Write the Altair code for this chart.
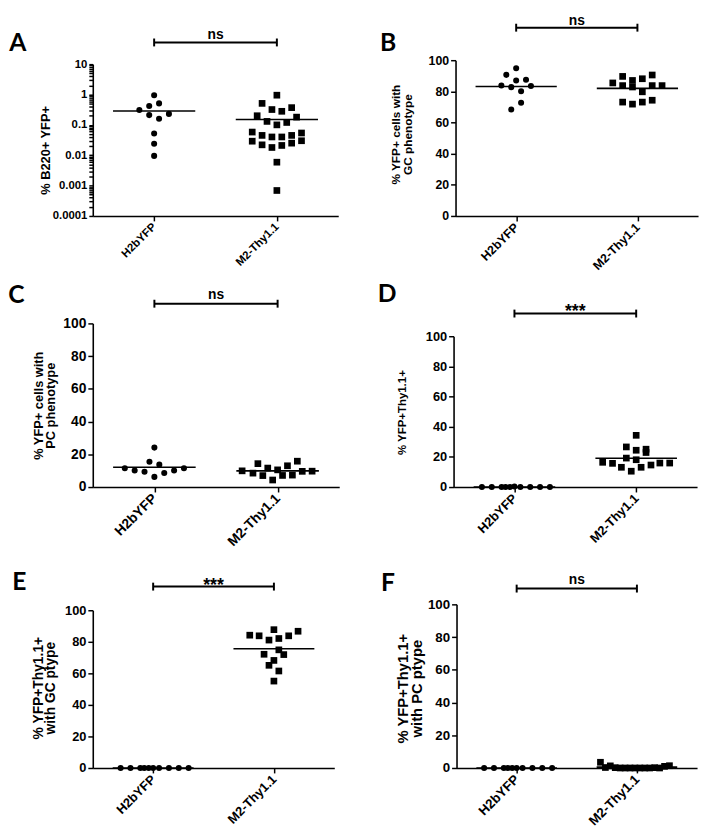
import altair as alt
import pandas as pd

GROUPS = ["H2bYFP", "M2-Thy1.1"]
LETTERS = ["A", "B", "C", "D", "E", "F"]
SIG_LABELS = ["ns", "ns", "ns", "***", "***", "ns"]
Y_TITLES = [
    ["% B220+ YFP+"],
    ["% YFP+ cells with", "GC phenotype"],
    ["% YFP+ cells with", "PC phenotype"],
    ["% YFP+Thy1.1+"],
    ["% YFP+Thy1.1+", "with GC ptype"],
    ["% YFP+Thy1.1+", "with PC ptype"],
]
LIN_TICKS = [0, 20, 40, 60, 80, 100]
LOG_MAJOR = [0.0001, 0.001, 0.01, 0.1, 1, 10]
LOG_TICKS = [m * k for m in [0.0001, 0.001, 0.01, 0.1, 1] for k in range(1, 10)] + [10]

# jitter = horizontal spread, in point-widths
ZERO_JIT = [-3.3, -2.3, -1.3, -0.9, -0.45, 0.0, 0.6, 1.6, 2.6, 3.6]

A_H2B = [0.95, 0.51, 0.42, 0.31, 0.21, 0.16, 0.23, 0.052, 0.024, 0.0095]
A_H2B_JIT = [0, 0.5, -0.5, -1.5, -0.5, 0.5, 1.5, 0, 0, 0]
A_M2 = [0.95, 0.51, 0.32, 0.28, 0.37, 0.20, 0.13, 0.10, 0.12, 0.18,
        0.058, 0.045, 0.040, 0.040, 0.045, 0.054,
        0.029, 0.022, 0.018, 0.021, 0.025, 0.030, 0.0059, 0.00069]
A_M2_JIT = [0, -1.5, -0.5, 0.5, 1.5, -2, -1, 0, 1, 2,
            -2.5, -1.5, -0.5, 0.5, 1.5, 2.5,
            -2.5, -1.5, -0.5, 0.5, 1.5, 2.5, 0, 0]

B_H2B = [94.8, 90.6, 87.0, 87.5, 83.8, 82.7, 80.1, 83.4, 72.7, 68.3]
B_H2B_JIT = [0, -1, 0, 1, -1.5, -0.5, 0.5, 1.5, 0.5, -0.5]
B_M2 = [85.4, 89.6, 83.7, 87.0, 82.8, 88.1, 79.7, 90.5, 83.7, 83.7, 73.1, 71.8, 73.1, 74.3]
B_M2_JIT = [-2.5, -1.5, -1.5, -0.5, -0.5, 0.5, 0.5, 1.5, 1.5, 2.5, -1.5, -0.5, 0.5, 1.5]

C_H2B = [24.1, 15.5, 13.7, 11.5, 10.1, 9.3, 6.2, 8.6, 10.1, 11.5]
C_H2B_JIT = [0, -0.5, 0.5, -3, -2, -1, 0, 1, 2, 3]
C_M2 = [9.9, 8.5, 14.3, 7.0, 11.6, 4.3, 10.5, 7.1, 13.0, 7.3, 15.8, 9.6, 9.7]
C_M2_JIT = [-3.6, -2.5, -2, -1.5, -1, -0.5, 0, 0.5, 1, 1.5, 2, 2.5, 3.5]

D_H2B = [0, 0, 0, 0, 0, 0.4, 0, 0, 0, 0]
D_H2B_JIT = ZERO_JIT
D_M2 = [16.4, 15.7, 13.1, 19.2, 26.6, 10.5, 34.3, 24.4, 18.1, 13.1, 25.1, 22.9, 14.6, 15.9, 15.9]
D_M2_JIT = [-3.4, -2.4, -1.5, -1, -1, -0.5, 0, 0, 0, 0.5, 1, 1, 1.5, 2.4, 3.4]

E_H2B = [0, 0, 0, 0, 0, 0, 0, 0, 0, 0]
E_H2B_JIT = ZERO_JIT
E_M2 = [84.2, 83.8, 81.1, 87.7, 82.1, 83.8, 86.7, 74.9, 72.1, 71.9, 68.2, 65.1, 61.5, 55.1]
E_M2_JIT = [-2.45, -1.5, -0.5, 0, 0.5, 1.5, 2.45, 0.5, -1, 1, 0, -0.5, 0.5, 0]

F_H2B = [0, 0, 0, 0, 0, 0, 0, 0, 0, 0]
F_H2B_JIT = ZERO_JIT
F_M2 = [3.5, 0.3, 1.3, 0.2, 0, 0, 0, 0, 0, 0, 0, 0.2, 0, 1.0, 1.4]
F_M2_JIT = [-3.7, -3.2, -2.7, -2.2, -1.7, -1.2, -0.7, -0.2, 0.3, 0.8, 1.3, 1.8, 2.3, 2.8, 3.3]

PANEL_DATA = [
    (A_H2B, A_H2B_JIT, A_M2, A_M2_JIT),
    (B_H2B, B_H2B_JIT, B_M2, B_M2_JIT),
    (C_H2B, C_H2B_JIT, C_M2, C_M2_JIT),
    (D_H2B, D_H2B_JIT, D_M2, D_M2_JIT),
    (E_H2B, E_H2B_JIT, E_M2, E_M2_JIT),
    (F_H2B, F_H2B_JIT, F_M2, F_M2_JIT),
]

# layout in pixels, relative to each panel's plot origin
LAYOUT = [
    dict(W=249, H=158, rng=[158, 4], bx=[-80, 266], by=[-47, 224], tx=-41, ty=91, tlh=13,
         bar=-18, sy=-22, sfs=14, lx=-76, ly=-17, lfs=11.5, tfs=13),
    dict(W=246, H=158, rng=[158, 0], bx=[-102, 249], by=[-47, 224], tx=-54, ty=75, tlh=12,
         bar=-33, sy=-36, sfs=14, lx=-68.5, ly=-17.3, lfs=12.5, tfs=12),
    dict(W=250, H=166, rng=[166, 0], bx=[-80, 266], by=[-43, 237], tx=-48.5, ty=83, tlh=12.5,
         bar=-20, sy=-25, sfs=14, lx=-77.5, ly=-29, lfs=14, tfs=13),
    dict(W=247, H=166, rng=[166, 13], bx=[-100, 251], by=[-43, 237], tx=-47, ty=90, tlh=12,
         bar=-10, sy=-7, sfs=18, lx=-67.5, ly=-29.5, lfs=13, tfs=11.6),
    dict(W=245, H=166, rng=[166, 6], bx=[-80, 266], by=[-48, 220], tx=-48.5, ty=84.5, tlh=12.5,
         bar=-18, sy=-14, sfs=18, lx=-74.5, ly=-23, lfs=13, tfs=14),
    dict(W=244, H=166, rng=[166, 0], bx=[-103, 248], by=[-48, 220], tx=-47, ty=85, tlh=14,
         bar=-16, sy=-21, sfs=14, lx=-69.5, ly=-22, lfs=13.5, tfs=15),
]

FONT = "Liberation Sans"


def make_df(h2b, h2b_jit, m2, m2_jit):
    rows = []
    for v, j in zip(h2b, h2b_jit):
        rows.append({"grp": GROUPS[0], "g": 1, "jit": j, "v": v})
    for v, j in zip(m2, m2_jit):
        rows.append({"grp": GROUPS[1], "g": 2, "jit": j, "v": v})
    return pd.DataFrame(rows)


def make_panel(i):
    lay = LAYOUT[i]
    W, H = lay["W"], lay["H"]
    df = make_df(*PANEL_DATA[i])
    is_log = i == 0

    x_axis = alt.Axis(
        values=[1, 2],
        labelExpr="datum.value == 1 ? '" + GROUPS[0] + "' : '" + GROUPS[1] + "'",
        labelAngle=-45, labelAlign="right", labelBaseline="middle",
        tickSize=5, labelPadding=4, title=None, grid=False,
        labelFontSize=lay["lfs"],
    )
    x_scale = alt.Scale(domain=[0.5, 2.5], nice=False, zero=False)

    def xe(field):
        return alt.X(field + ":Q", scale=x_scale, axis=x_axis)

    if is_log:
        y_scale = alt.Scale(type="log", domain=[0.0001, 10], nice=False, range=lay["rng"])
        y_axis = alt.Axis(
            values=LOG_TICKS, format="~g",
            labelExpr="indexof(" + str(LOG_MAJOR) + ", datum.value) >= 0 ? datum.label : ''",
            labelOverlap=False, tickSize=4, labelPadding=2, grid=False,
            title=Y_TITLES[i], titleX=lay["tx"], titleY=lay["ty"], titleLineHeight=lay["tlh"],
            labelFontSize=lay["lfs"], titleFontSize=lay["tfs"],
        )
    else:
        y_scale = alt.Scale(domain=[0, 100], nice=False, zero=False, range=lay["rng"])
        y_axis = alt.Axis(
            values=LIN_TICKS, tickSize=5, labelPadding=2, grid=False,
            title=Y_TITLES[i], titleX=lay["tx"], titleY=lay["ty"], titleLineHeight=lay["tlh"],
            labelFontSize=lay["lfs"], titleFontSize=lay["tfs"],
        )

    def ye(field):
        return alt.Y(field + ":Q", scale=y_scale, axis=y_axis)

    k = 20.0 / W  # one point-width (10 px) in x units

    points = alt.Chart(df).mark_point(filled=True, opacity=1, color="black").transform_calculate(
        xp="datum.g + datum.jit * " + str(k)
    ).encode(
        x=xe("xp"),
        y=ye("v"),
        shape=alt.Shape("grp:N", scale=alt.Scale(domain=GROUPS, range=["circle", "square"]), legend=None),
        size=alt.Size("grp:N", scale=alt.Scale(domain=GROUPS, range=[38, 46]), legend=None),
    )

    mean_line = alt.Chart(df).mark_rule(color="black", strokeWidth=1.6).transform_aggregate(
        m="mean(v)", groupby=["g"]
    ).transform_calculate(
        xa="datum.g - 0.335", xb="datum.g + 0.335"
    ).encode(
        x=xe("xa"), x2=alt.X2("xb:Q"), y=ye("m"),
    )

    bar_df = pd.DataFrame({"x": [1], "x2": [2]})
    bar = alt.Chart(bar_df).mark_rule(color="black", strokeWidth=2).encode(
        x=xe("x"), x2=alt.X2("x2:Q"), y=alt.value(lay["bar"]),
    )
    caps_df = pd.DataFrame({"x": [1, 2]})
    caps = alt.Chart(caps_df).mark_rule(color="black", strokeWidth=2).encode(
        x=xe("x"), y=alt.value(lay["bar"] - 4), y2=alt.value(lay["bar"] + 4),
    )
    sig_df = pd.DataFrame({"x": [1.5], "t": [SIG_LABELS[i]]})
    sig = alt.Chart(sig_df).mark_text(
        font=FONT, fontSize=lay["sfs"], fontWeight="bold", align="center",
        baseline="alphabetic", color="black"
    ).encode(x=xe("x"), y=alt.value(lay["sy"]), text="t:N")

    let_df = pd.DataFrame({"t": [LETTERS[i]]})
    letter = alt.Chart(let_df).mark_text(
        font="Lato", fontSize=25, fontWeight="bold", align="center", baseline="middle", color="black"
    ).encode(x=alt.value(lay["lx"]), y=alt.value(lay["ly"]), text="t:N")

    # invisible frame fixing each panel's cell in the grid
    box_df = pd.DataFrame({"t": [0]})
    box = alt.Chart(box_df).mark_rule(opacity=0, strokeWidth=1).encode(
        x=alt.value(lay["bx"][0]), x2=alt.value(lay["bx"][1]),
        y=alt.value(lay["by"][0]), y2=alt.value(lay["by"][1]),
    )

    return alt.layer(points, mean_line, bar, caps, sig, letter, box).properties(width=W, height=H)


panels = [make_panel(i) for i in range(6)]
row1 = alt.hconcat(panels[0], panels[1], spacing=0)
row2 = alt.hconcat(panels[2], panels[3], spacing=0)
row3 = alt.hconcat(panels[4], panels[5], spacing=0)

chart = alt.vconcat(row1, row2, row3, spacing=0).properties(
    padding=0
).configure_view(stroke=None).configure_axis(
    domainColor="black", domainWidth=1.6, tickColor="black", tickWidth=1.5,
    labelFont=FONT, labelFontWeight="bold", labelColor="black",
    titleFont=FONT, titleFontWeight="bold", titleColor="black",
)

chart.save("out.html", embed_options={"renderer": "svg", "actions": False})
